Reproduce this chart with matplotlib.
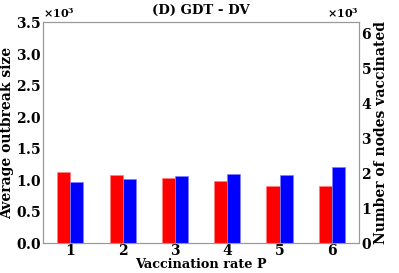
import numpy as np
import matplotlib
matplotlib.use("Agg")
import matplotlib.pyplot as plt
from matplotlib.ticker import ScalarFormatter

plt.rcParams['font.family'] = 'DejaVu Serif'
plt.rcParams['font.weight'] = 'bold'
plt.rcParams['mathtext.fontset'] = 'dejavuserif'
plt.rcParams['mathtext.default'] = 'bf'

rates = [1, 2, 3, 4, 5, 6]
outbreak = [1120, 1070, 1025, 980, 900, 900]          # left axis, red
vaccinated = [1750, 1820, 1920, 1970, 1940, 2160]     # right axis, blue

x = np.array(rates)
w = 0.25

fig = plt.figure(figsize=(3.99, 2.73), dpi=100)
ax = fig.add_axes([0.108, 0.110, 0.792, 0.809])
ax2 = ax.twinx()

ax.bar(x - w/2, outbreak, w, color='red', edgecolor='#ff8080', linewidth=0.5)
ax2.bar(x + w/2, vaccinated, w, color='blue', edgecolor='#8080ff', linewidth=0.5)

ax.set_xlim(0.48, 6.52)
ax.set_ylim(0, 3500)
ax2.set_ylim(0, 6300)
ax.set_xticks(rates)
ax.set_yticks(np.arange(0, 3501, 500))
ax2.set_yticks(np.arange(0, 6001, 1000))

for a in (ax, ax2):
    fmt = ScalarFormatter(useMathText=True)
    fmt.set_powerlimits((0, 0))
    a.yaxis.set_major_formatter(fmt)
    a.tick_params(length=0, labelsize=10, pad=1.5)
    a.yaxis.get_offset_text().set_fontsize(8)
    for s in a.spines.values():
        s.set_color('#999999')

ax.tick_params(axis='x', pad=1)
ax.set_xlabel("Vaccination rate P", fontsize=9.3, fontweight='bold', labelpad=0)
ax.set_ylabel("Average outbreak size", fontsize=10, fontweight='bold', labelpad=1)
ax2.set_ylabel("Number of nodes vaccinated", fontsize=10, fontweight='bold', labelpad=1)
ax.set_title("(D) GDT - DV", fontsize=9.5, fontweight='bold', pad=6)

fig.savefig("out.png", dpi=100)
